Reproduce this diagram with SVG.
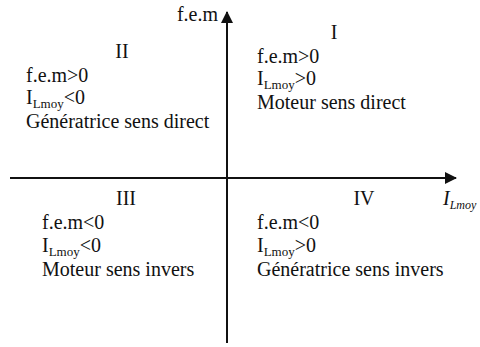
<svg xmlns="http://www.w3.org/2000/svg" width="480" height="347" viewBox="0 0 480 347">
<style>
text{font-family:"Liberation Serif","Times New Roman",serif;font-size:20px;fill:#111}
.sub{font-size:13px}
.it{font-style:italic}
.axsub{font-size:12px}
.axis{stroke:#111;stroke-width:2;fill:none}
</style>
<defs>
<marker id="arr" viewBox="0 0 12 12" refX="11" refY="6" markerWidth="12" markerHeight="12" markerUnits="userSpaceOnUse" orient="auto">
<path d="M0,0 L12,6 L0,12 Z" fill="#111"/>
</marker>
</defs>
<rect width="480" height="347" fill="#fff"/>
<g id="connectors">
<line class="axis" x1="10" y1="178" x2="456" y2="178" marker-end="url(#arr)"/>
<line class="axis" x1="227" y1="343" x2="227" y2="12" marker-end="url(#arr)"/>
</g>
<g id="axis-labels">
<text x="218" y="21" text-anchor="end">f.e.m</text>
<text x="443" y="205" class="it">I<tspan class="axsub" dy="4">Lmoy</tspan></text>
</g>
<g id="q1">
<text x="334" y="39" text-anchor="middle">I</text>
<text x="257" y="63">f.e.m&gt;0</text>
<text x="257" y="85">I<tspan class="sub" dy="4">Lmoy</tspan><tspan dy="-4">&gt;0</tspan></text>
<text x="257" y="109">Moteur sens direct</text>
</g>
<g id="q2">
<text x="122" y="58" text-anchor="middle">II</text>
<text x="26" y="82">f.e.m&gt;0</text>
<text x="26" y="104">I<tspan class="sub" dy="4">Lmoy</tspan><tspan dy="-4">&lt;0</tspan></text>
<text x="26" y="128">Génératrice sens direct</text>
</g>
<g id="q3">
<text x="126" y="205" text-anchor="middle">III</text>
<text x="42" y="229">f.e.m&lt;0</text>
<text x="42" y="252">I<tspan class="sub" dy="4">Lmoy</tspan><tspan dy="-4">&lt;0</tspan></text>
<text x="42" y="276">Moteur sens invers</text>
</g>
<g id="q4">
<text x="364" y="205" text-anchor="middle">IV</text>
<text x="257" y="229">f.e.m&lt;0</text>
<text x="257" y="252">I<tspan class="sub" dy="4">Lmoy</tspan><tspan dy="-4">&gt;0</tspan></text>
<text x="257" y="276">Génératrice sens invers</text>
</g>
</svg>
